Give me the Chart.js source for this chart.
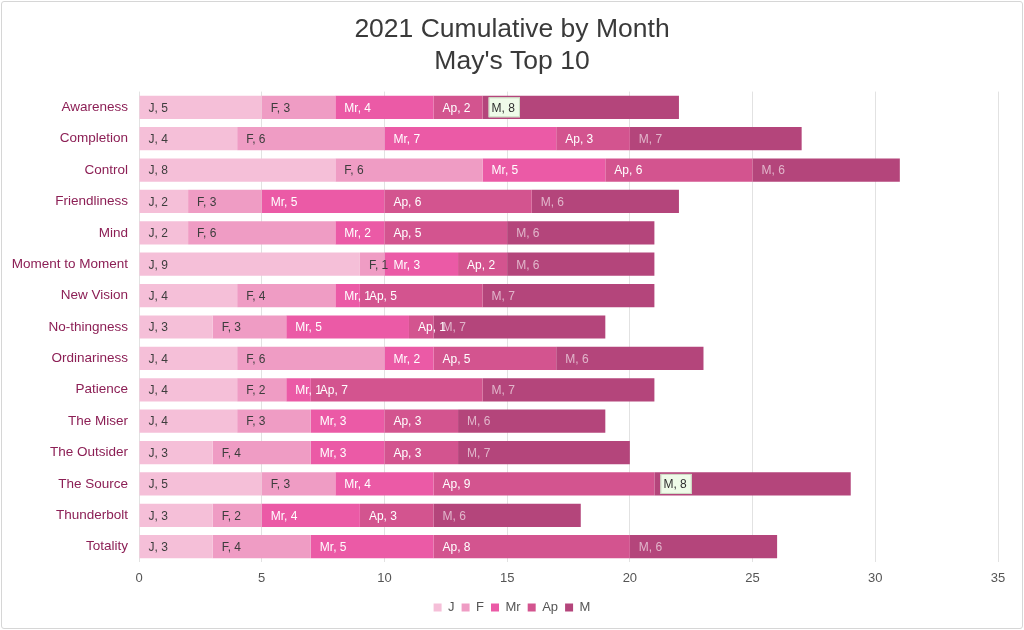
<!DOCTYPE html>
<html>
<head>
<meta charset="utf-8">
<script src="https://cdn.jsdelivr.net/npm/chart.js@4"></script>
<style>
    html, body { margin: 0; padding: 0; background: #fff; }
    #wrap {
        position: absolute; left: 1px; top: 1px;
        width: 1020px; height: 626px;
        border: 1px solid #d6d6d6; border-radius: 3px;
    }
    canvas { display: block; }
</style>
</head>
<body>
<div id="wrap"><canvas id="barChartMonth" width="1020" height="626"></canvas></div>
<script>
var categories = ["Awareness", "Completion", "Control", "Friendliness", "Mind", "Moment to Moment",
    "New Vision", "No-thingness", "Ordinariness", "Patience", "The Miser", "The Outsider",
    "The Source", "Thunderbolt", "Totality"];
var seriesNames = ["J", "F", "Mr", "Ap", "M"];
var jValues  = [5, 4, 8, 2, 2, 9, 4, 3, 4, 4, 4, 3, 5, 3, 3];
var fValues  = [3, 6, 6, 3, 6, 1, 4, 3, 6, 2, 3, 4, 3, 2, 4];
var mrValues = [4, 7, 5, 5, 2, 3, 1, 5, 2, 1, 3, 3, 4, 4, 5];
var apValues = [2, 3, 6, 6, 5, 2, 5, 1, 5, 7, 3, 3, 9, 3, 8];
var mValues  = [8, 7, 6, 6, 6, 6, 7, 7, 6, 7, 6, 7, 8, 6, 6];
var xTicks = [0, 5, 10, 15, 20, 25, 30, 35];
var highlighted = ["Awareness", "The Source"];

document.addEventListener("DOMContentLoaded", function () {
    var barColors = ["#f5bfd8", "#ef9cc4", "#eb5aa6", "#d3548f", "#b4457b"];
    var labelColors = ["#3d3d3d", "#3d3d3d", "#ffffff", "#ffffff", "rgba(255,255,255,0.6)"];
    var allValues = [jValues, fValues, mrValues, apValues, mValues];
    var fontFamily = "'Liberation Sans', Arial, sans-serif";

    // draws "J, 5" style labels at the left edge of each segment
    var segmentLabels = {
        id: "segmentLabels",
        afterLayout: function (chart) {
            // title and legend sit centred on the page, not on the padded box
            chart.legend.left += 12;
            chart.legend.right += 12;
            chart.titleBlock.left += 12;
            chart.titleBlock.right += 12;
        },
        afterDatasetsDraw: function (chart) {
            var ctx = chart.ctx;
            ctx.save();
            ctx.font = "12px " + fontFamily;
            ctx.textBaseline = "middle";
            chart.data.datasets.forEach(function (ds, di) {
                var meta = chart.getDatasetMeta(di);
                meta.data.forEach(function (bar, i) {
                    var text = ds.label + ", " + ds.data[i];
                    var x = bar.base + 9;
                    var y = bar.y;
                    if (di === 4 && highlighted.indexOf(categories[i]) >= 0) {
                        var w = ctx.measureText(text).width;
                        ctx.fillStyle = "#effbe9";
                        ctx.fillRect(x - 3, y - 10, w + 8, 20);
                        ctx.strokeStyle = "#c9d9c0";
                        ctx.lineWidth = 1;
                        ctx.strokeRect(x - 2.5, y - 9.5, w + 7, 19);
                        ctx.fillStyle = "#2f2f2f";
                    } else {
                        ctx.fillStyle = labelColors[di];
                    }
                    ctx.fillText(text, x, y + 1);
                });
            });
            ctx.restore();
        }
    };

    var canvas = document.getElementById("barChartMonth");
    var ctx = canvas.getContext("2d");
    canvas.chart = new Chart(ctx, {
        type: "bar",
        data: {
            labels: categories,
            datasets: seriesNames.map(function (name, k) {
                return {
                    label: name,
                    data: allValues[k],
                    backgroundColor: barColors[k],
                    borderWidth: 0,
                    categoryPercentage: 1,
                    barPercentage: 0.74,
                };
            }),
        },
        options: {
            indexAxis: "y",
            responsive: false,
            animation: false,
            layout: {
                padding: { top: 6, right: 24, bottom: 4, left: 0 },
            },
            scales: {
                x: {
                    stacked: true,
                    min: 0,
                    max: 35,
                    afterBuildTicks: function (axis) {
                        axis.ticks = xTicks.map(function (v) { return { value: v }; });
                    },
                    grid: { color: "#e2e2e2", drawTicks: false },
                    border: { display: false },
                    ticks: {
                        color: "#555555",
                        padding: 8,
                        font: { family: fontFamily, size: 13 },
                    },
                },
                y: {
                    stacked: true,
                    grid: { display: false, drawTicks: false },
                    border: { display: false },
                    afterFit: function (axis) { axis.width = 137; },
                    ticks: {
                        color: "#8c1f55",
                        padding: 11,
                        font: { family: fontFamily, size: 13.5 },
                    },
                },
            },
            plugins: {
                title: {
                    display: true,
                    text: ["2021 Cumulative by Month", "May's Top 10"],
                    color: "#3a3a3a",
                    font: { family: fontFamily, size: 26.5, weight: "normal", lineHeight: 1.2 },
                    padding: { top: 6, bottom: 14 },
                },
                legend: {
                    display: true,
                    position: "bottom",
                    labels: {
                        boxWidth: 8,
                        boxHeight: 8,
                        padding: 7,
                        color: "#555555",
                        font: { family: fontFamily, size: 13 },
                    },
                },
                tooltip: { enabled: false },
            },
        },
        plugins: [segmentLabels],
    });
});
</script>
</body>
</html>
